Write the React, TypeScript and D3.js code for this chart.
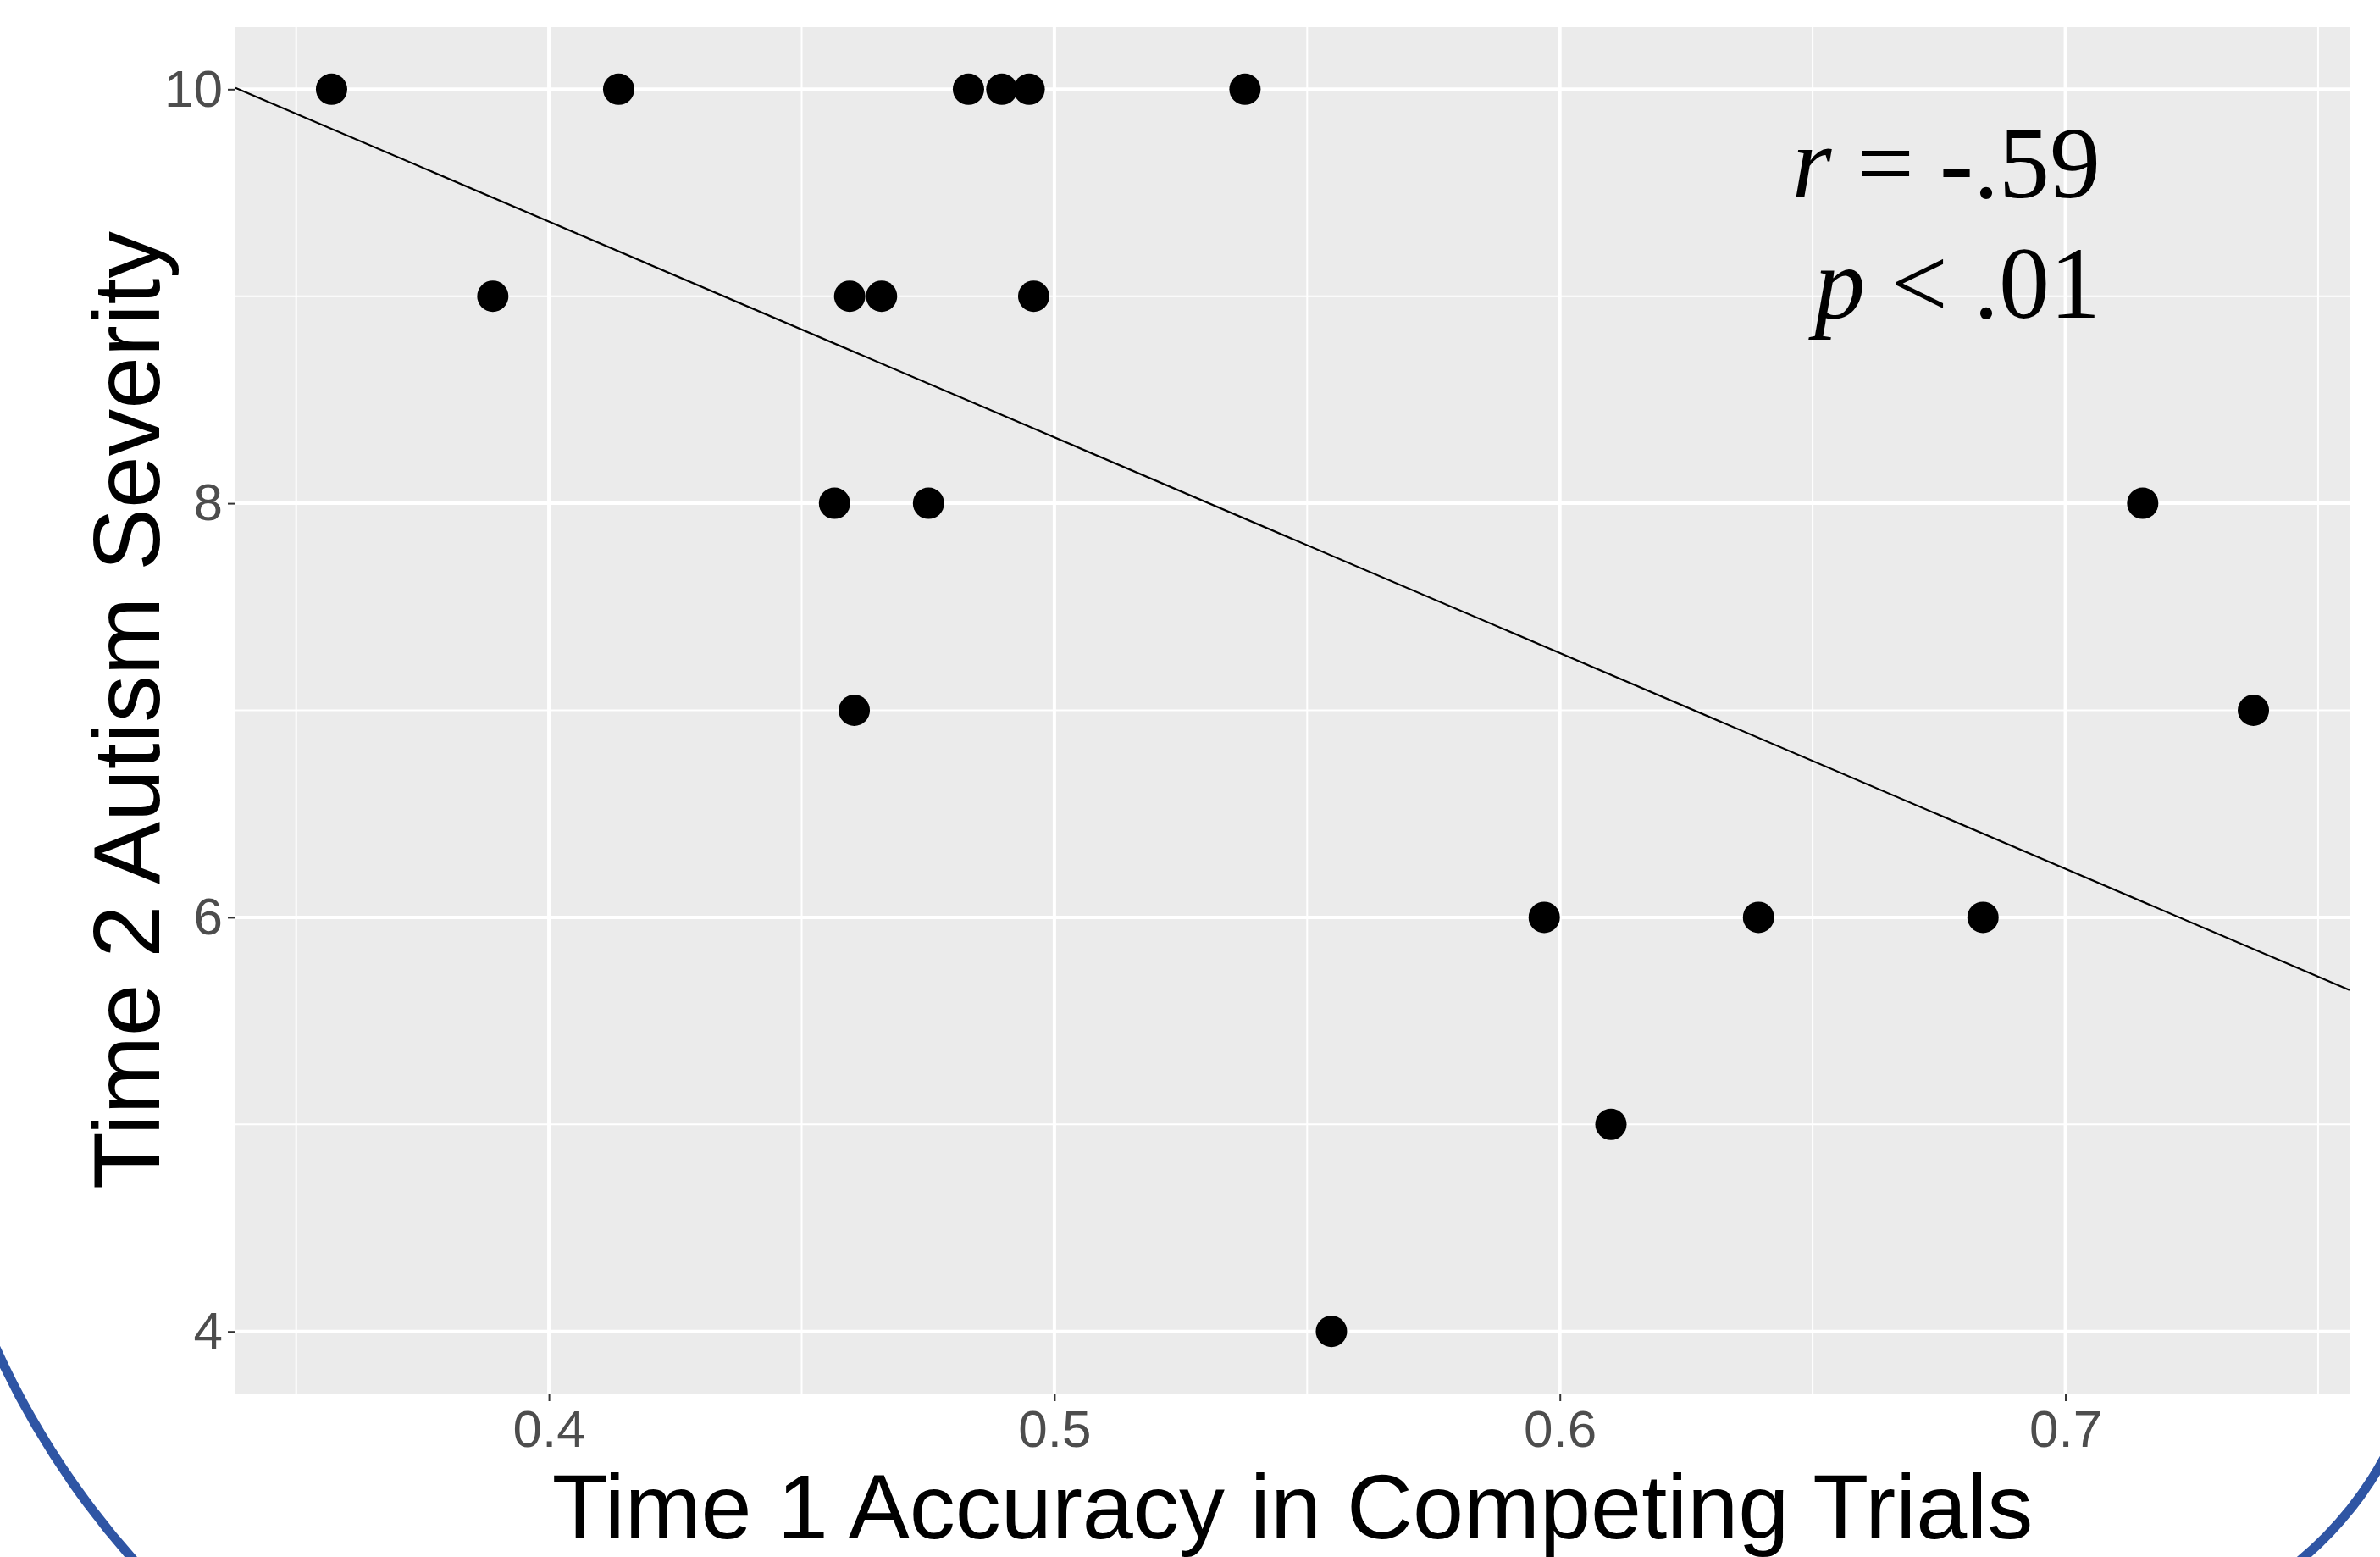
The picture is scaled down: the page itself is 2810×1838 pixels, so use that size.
import React from "react";
import * as d3 from "d3";

// Time 1 accuracy (x) and Time 2 severity (y)
const accuracy = [
  0.357, 0.4138, 0.483, 0.4896, 0.495, 0.5377, 0.3889, 0.4595, 0.4658, 0.4959,
  0.4565, 0.4751, 0.7153, 0.4604, 0.7372, 0.5969, 0.6393, 0.6837, 0.6101, 0.5548,
];
const severity = [10, 10, 10, 10, 10, 10, 9, 9, 9, 9, 8, 8, 8, 7, 7, 6, 6, 6, 5, 4];

const xTicks = [0.4, 0.5, 0.6, 0.7];
const xMinor = [0.35, 0.45, 0.55, 0.65, 0.75];
const yTicks = [4, 6, 8, 10];
const yMinor = [5, 7, 9];

const xTitle = "Time 1 Accuracy in Competing Trials";
const yTitle = "Time 2 Autism Severity";
const statLines = [
  { sym: "r", rest: " = -.59" },
  { sym: "p", rest: " < .01" },
];

export default function App() {
  const svgRef = React.useRef<SVGSVGElement>(null);
  const width = 2810;
  const height = 1838;
  const panel = { left: 278, right: 2774, top: 32, bottom: 1645 };

  React.useEffect(() => {
    const svg = d3.select(svgRef.current);
    svg.selectAll("*").remove();

    const points = accuracy.map((x, i) => ({ x, y: severity[i] }));

    /* ggplot-style 5% expansion */
    const xe = d3.extent(accuracy) as [number, number];
    const ye = d3.extent(severity) as [number, number];
    const xp = (xe[1] - xe[0]) * 0.05;
    const yp = (ye[1] - ye[0]) * 0.05;

    const xScale = d3
      .scaleLinear()
      .domain([xe[0] - xp, xe[1] + xp])
      .range([panel.left, panel.right]);
    const yScale = d3
      .scaleLinear()
      .domain([ye[0] - yp, ye[1] + yp])
      .range([panel.bottom, panel.top]);

    svg.append("rect").attr("width", width).attr("height", height).attr("fill", "#ffffff");

    /* Panel */
    svg
      .append("rect")
      .attr("x", panel.left)
      .attr("y", panel.top)
      .attr("width", panel.right - panel.left)
      .attr("height", panel.bottom - panel.top)
      .attr("fill", "#EBEBEB");

    const grid = svg.append("g").attr("stroke", "#ffffff");
    grid
      .selectAll("line.xminor")
      .data(xMinor.filter((d) => xScale(d) > panel.left && xScale(d) < panel.right))
      .enter()
      .append("line")
      .attr("x1", (d) => xScale(d))
      .attr("x2", (d) => xScale(d))
      .attr("y1", panel.top)
      .attr("y2", panel.bottom)
      .attr("stroke-width", 2);
    grid
      .selectAll("line.yminor")
      .data(yMinor)
      .enter()
      .append("line")
      .attr("x1", panel.left)
      .attr("x2", panel.right)
      .attr("y1", (d) => yScale(d))
      .attr("y2", (d) => yScale(d))
      .attr("stroke-width", 2);
    grid
      .selectAll("line.xmajor")
      .data(xTicks)
      .enter()
      .append("line")
      .attr("x1", (d) => xScale(d))
      .attr("x2", (d) => xScale(d))
      .attr("y1", panel.top)
      .attr("y2", panel.bottom)
      .attr("stroke-width", 4);
    grid
      .selectAll("line.ymajor")
      .data(yTicks)
      .enter()
      .append("line")
      .attr("x1", panel.left)
      .attr("x2", panel.right)
      .attr("y1", (d) => yScale(d))
      .attr("y2", (d) => yScale(d))
      .attr("stroke-width", 4);

    /* Axes */
    const xAxis = d3
      .axisBottom(xScale)
      .tickValues(xTicks)
      .tickSize(9)
      .tickPadding(10)
      .tickFormat(d3.format(".1f"));
    const yAxis = d3
      .axisLeft(yScale)
      .tickValues(yTicks)
      .tickSize(9)
      .tickPadding(6)
      .tickFormat(d3.format("d"));

    const gx = svg.append("g").attr("transform", `translate(0, ${panel.bottom})`).call(xAxis);
    const gy = svg.append("g").attr("transform", `translate(${panel.left}, 0)`).call(yAxis);
    [gx, gy].forEach((g) => {
      g.select(".domain").remove();
      g.selectAll(".tick line").attr("stroke", "#333333").attr("stroke-width", 2);
      g.selectAll(".tick text")
        .attr("fill", "#4D4D4D")
        .attr("font-family", "Liberation Sans, Arial, sans-serif")
        .attr("font-size", 62);
    });

    /* Regression line over full panel */
    const mx = d3.mean(accuracy) as number;
    const my = d3.mean(severity) as number;
    const sxy = d3.sum(points, (p) => (p.x - mx) * (p.y - my));
    const sxx = d3.sum(points, (p) => (p.x - mx) * (p.x - mx));
    const slope = sxy / sxx;
    const fit = (x: number) => my + slope * (x - mx);
    const dom = xScale.domain();
    svg
      .append("path")
      .datum(dom)
      .attr("fill", "none")
      .attr("stroke", "#000000")
      .attr("stroke-width", 2.2)
      .attr(
        "d",
        d3
          .line<number>()
          .x((d) => xScale(d))
          .y((d) => yScale(fit(d)))
      );

    /* Points */
    svg
      .append("g")
      .selectAll("circle")
      .data(points)
      .enter()
      .append("circle")
      .attr("cx", (d) => xScale(d.x))
      .attr("cy", (d) => yScale(d.y))
      .attr("r", 18.5)
      .attr("fill", "#000000");

    /* Titles */
    svg
      .append("text")
      .attr("x", (panel.left + panel.right) / 2)
      .attr("y", 1816)
      .attr("text-anchor", "middle")
      .attr("font-family", "Liberation Sans, Arial, sans-serif")
      .attr("font-size", 108)
      .attr("fill", "#000000")
      .text(xTitle);
    svg
      .append("text")
      .attr("transform", `translate(188, ${(panel.top + panel.bottom) / 2}) rotate(-90)`)
      .attr("text-anchor", "middle")
      .attr("font-family", "Liberation Sans, Arial, sans-serif")
      .attr("font-size", 111)
      .attr("fill", "#000000")
      .text(yTitle);

    /* r / p annotation */
    const stat = svg
      .append("g")
      .attr("font-family", "Liberation Serif, Times New Roman, serif")
      .attr("font-size", 120)
      .attr("fill", "#000000");
    statLines.forEach((s, i) => {
      const t = stat
        .append("text")
        .attr("x", 2480)
        .attr("y", 233 + i * 142)
        .attr("text-anchor", "end");
      t.append("tspan").attr("font-style", "italic").text(s.sym);
      t.append("tspan").text(s.rest);
    });

    /* slide frame corners */
    const frame = svg
      .append("g")
      .attr("fill", "none")
      .attr("stroke", "#2F55A4")
      .attr("stroke-width", 11);
    const left = d3.path();
    left.arc(893, 1186, 985, (165 * Math.PI) / 180, (125 * Math.PI) / 180, true);
    frame.append("path").attr("d", left.toString());
    const right = d3.path();
    right.arc(2452, 1524, 413, (15 * Math.PI) / 180, (62 * Math.PI) / 180);
    frame.append("path").attr("d", right.toString());
    // eslint-disable-next-line
  }, []);

  return (
    <svg
      ref={svgRef}
      width={width}
      height={height}
      style={{ position: "absolute", left: 0, top: 0, display: "block" }}
    />
  );
}
